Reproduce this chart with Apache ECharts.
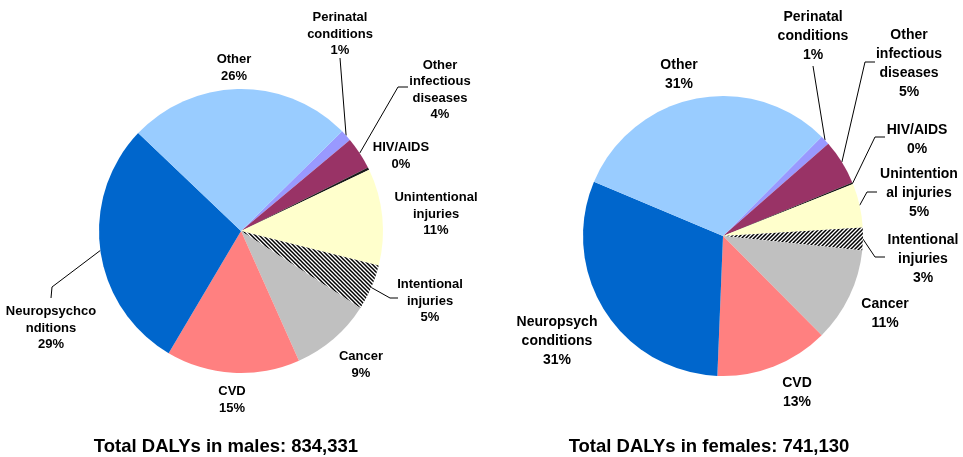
<!DOCTYPE html>
<html>
<head>
<meta charset="utf-8">
<script src="https://cdn.jsdelivr.net/npm/echarts@6/dist/echarts.min.js"></script>
<style>
html,body{margin:0;padding:0;background:#fff;}
#chart{width:963px;height:457px;}
</style>
</head>
<body>
<div id="chart"></div>
<script>
// ---- data ----
var categories = ['Perinatal conditions','Other infectious diseases','HIV/AIDS','Unintentional injuries','Intentional injuries','Cancer','CVD','Neuropsych conditions','Other'];
var maleLabels = ['Perinatal\nconditions','Other\ninfectious\ndiseases','HIV/AIDS','Unintentional\ninjuries','Intentional\ninjuries','Cancer','CVD','Neuropsychco\nnditions','Other'];
var femaleLabels = ['Perinatal\nconditions','Other\ninfectious\ndiseases','HIV/AIDS','Unintention\nal injuries','Intentional\ninjuries','Cancer','CVD','Neuropsych\nconditions','Other'];
var maleShare = [1.3, 3.7, 0.3, 11.0, 5.2, 9.2, 15.2, 28.6, 25.5];
var femaleShare = [1.1, 5.2, 0.2, 5.1, 2.6, 10.9, 13.1, 30.7, 31.1];
var maleTitle = 'Total DALYs in males: 834,331';
var femaleTitle = 'Total DALYs in females: 741,130';

// ---- styling / layout ----
function hatch(up){
  var c=document.createElement('canvas'); c.width=4; c.height=4;
  var g=c.getContext('2d');
  g.fillStyle='#fff'; g.fillRect(0,0,4,4);
  g.strokeStyle='#000'; g.lineWidth=1.5; g.beginPath();
  if(up){ g.moveTo(-1,5); g.lineTo(5,-1); g.moveTo(-1,1); g.lineTo(1,-1); g.moveTo(3,5); g.lineTo(5,3); }
  else { g.moveTo(-1,-1); g.lineTo(5,5); g.moveTo(-1,3); g.lineTo(1,5); g.moveTo(3,-1); g.lineTo(5,1); }
  g.stroke();
  return {image:c, repeat:'repeat'};
}
var baseColors = ['#9999FF','#993366','#1a1a1a','#FFFFCC',null,'#C0C0C0','#FF8080','#0066CC','#99CCFF'];
var malePos = [[340,34],[440,90],[401,156],[436,214],[430,301],[361,365],[232,400],[51,328],[234,68]];
var femalePos = [[813,36],[909,64],[917,140],[919,193],[923,259],[885,314],[797,393],[557,341],[679,75]];
// leader line elbow/end points (null = no leader line)
var maleGuide = [[[340,58],[340,58]], [[398,87],[408,87]], null, null, [[390,298],[398,298]], null, null, [[52,287],[51,298]], null];
var femaleGuide = [[[813,66],[813,66]], [[865,62],[875,62]], [[875,137],[885,137]], [[867,192],[877,192]], [[875,257],[885,257]], null, null, null, null];

var MALE = {center:[241,231], r:142, start:44.6};
var FEMALE = {center:[723,236], r:140, start:45.2};

function edgePoint(geo, vals, i){
  var tot = vals.reduce(function(a,b){return a+b;},0);
  var cum = 0; for (var k=0;k<i;k++) cum += vals[k];
  var a = (geo.start - (cum + vals[i]/2)/tot*360) * Math.PI/180;
  return [geo.center[0] + geo.r*Math.cos(a), geo.center[1] - geo.r*Math.sin(a)];
}

function buildData(vals, labels, guide, up){
  return categories.map(function(c,i){
    return {
      name: c, value: vals[i],
      itemStyle: {color: baseColors[i] || hatch(up)},
      label: {formatter: labels[i] + '\n' + Math.round(vals[i]) + '%'},
      labelLine: {show: !!guide[i]}
    };
  });
}
function makeSeries(geo, vals, labels, pos, guide, up, fs, lh){
  return {
    type:'pie', center:geo.center, radius:geo.r, startAngle:geo.start, clockwise:true,
    avoidLabelOverlap:false, animation:false, silent:true,
    label:{show:true, position:'outside', color:'#000', fontFamily:'Liberation Sans, Arial, sans-serif',
      fontWeight:'bold', fontSize:fs, lineHeight:lh, align:'center'},
    labelLine:{show:true, length:10, length2:8, smooth:false, lineStyle:{color:'#000', width:1}},
    labelLayout:function(p){
      var i = p.dataIndex, q = pos[i];
      var res = {x:q[0], y:q[1], align:'center', verticalAlign:'middle'};
      if (guide[i]) res.labelLinePoints = [edgePoint(geo, vals, i), guide[i][0], guide[i][1]];
      return res;
    },
    data: buildData(vals, labels, guide, up)
  };
}

var titleStyle = {fontFamily:'Liberation Sans, Arial, sans-serif', fontWeight:'bold', fontSize:18.5, color:'#000'};
var chart = echarts.init(document.getElementById('chart'), null, {renderer:'canvas'});
chart.setOption({
  animation:false,
  backgroundColor:'#fff',
  title:[
    {text:maleTitle, left:226, top:437, textAlign:'center', padding:0, textStyle:titleStyle},
    {text:femaleTitle, left:709, top:437, textAlign:'center', padding:0, textStyle:titleStyle}
  ],
  series:[
    makeSeries(MALE, maleShare, maleLabels, malePos, maleGuide, false, 13, 16.5),
    makeSeries(FEMALE, femaleShare, femaleLabels, femalePos, femaleGuide, true, 14, 19)
  ]
});
</script>
</body>
</html>
